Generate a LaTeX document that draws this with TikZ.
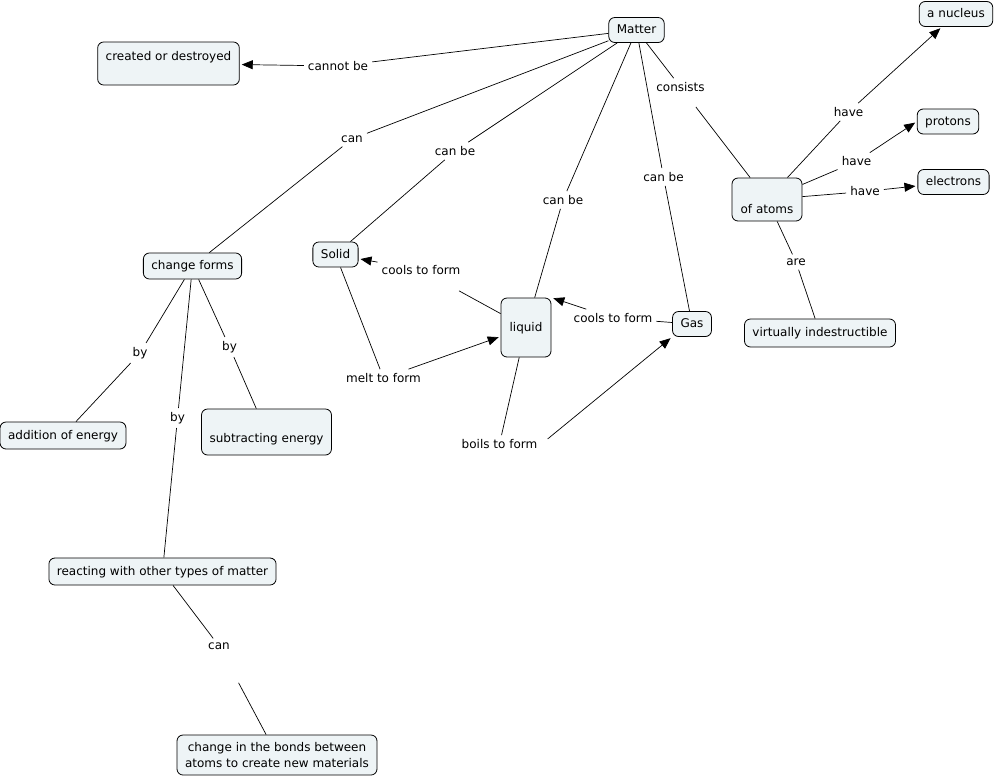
\documentclass[tikz,border=0pt]{standalone}
\usepackage{fontspec}
\setmainfont{DejaVu Sans}
\usetikzlibrary{arrows.meta}

\definecolor{conceptfill}{HTML}{EEF4F6}

\tikzset{
    concept/.style={draw, rounded corners=6pt, fill=conceptfill, line width=0.8pt, inner xsep=8pt, inner ysep=6pt, text height=10pt, text depth=3pt},
    linkword/.style={inner sep=4pt},
    link/.style={line width=0.7pt},
    linkto/.style={link, shorten >=2pt, -{Triangle[length=11pt, width=9pt]}},
}

\begin{document}
\begin{tikzpicture}[x=1pt, y=-1pt, font=\fontsize{12}{15.5}\selectfont]
                \useasboundingbox (0, 0) rectangle (996, 777);

                % concepts
                \node[concept] (matter) at (636.5, 30) {Matter};
                \node[concept, minimum width=141pt, text height=12pt, text depth=19pt] (created) at (168.5, 63.5) {created or destroyed};
                \node[concept] (nucleus) at (956, 14) {a nucleus};
                \node[concept] (protons) at (948, 121.5) {protons};
                \node[concept] (electrons) at (953.5, 182) {electrons};
                \node[concept, minimum width=70pt, text height=29pt, text depth=2pt] (atoms) at (767, 199.5) {of atoms};
                \node[concept, minimum height=28pt] (indestr) at (820, 333) {virtually indestructible};
                \node[concept] (solid) at (335.5, 254.5) {Solid};
                \node[concept, minimum width=50pt, text height=27pt, text depth=20pt] (liquid) at (526, 327.5) {liquid};
                \node[concept] (gas) at (692, 324) {Gas};
                \node[concept, minimum height=26pt] (change) at (192.5, 266) {change forms};
                \node[concept, minimum height=27pt] (addition) at (63, 435.5) {addition of energy};
                \node[concept, minimum width=129pt, text height=27pt, text depth=7pt] (subtract) at (266.5, 432) {subtracting energy};
                \node[concept, minimum height=27pt] (reacting) at (162.5, 571.5) {reacting with other types of matter};
                \node[concept, text height=, text depth=, align=center, minimum width=200pt, minimum height=40pt] (bonds) at (277, 755) {change in the bonds between\\atoms to create new materials};

                % linking words
                \node[linkword] (cannotbe) at (338, 66) {cannot be};
                \node[linkword] (canch) at (352, 139) {can};
                \node[linkword] (canbes) at (455, 151) {can be};
                \node[linkword] (canbel) at (563, 200) {can be};
                \node[linkword] (canbeg) at (663.5, 177) {can be};
                \node[linkword] (consists) at (680.5, 87) {consists};
                \node[linkword] (havenuc) at (848.5, 112) {have};
                \node[linkword] (havepro) at (856.5, 161.5) {have};
                \node[linkword] (haveele) at (865, 191.5) {have};
                \node[linkword] (are) at (796, 262) {are};
                \node[linkword] (coolss) at (421, 270) {cools to form};
                \node[linkword] (coolsl) at (613, 318) {cools to form};
                \node[linkword] (melt) at (383.5, 378) {melt to form};
                \node[linkword] (boils) at (499.5, 444) {boils to form};
                \node[linkword] (byadd) at (140, 353) {by};
                \node[linkword] (bysub) at (229.5, 347) {by};
                \node[linkword] (byrea) at (177.5, 418) {by};
                \node[linkword] (canbo) at (219, 646) {can};

                % Matter -> created or destroyed
                \draw[link] (matter) -- (cannotbe);
                \draw[linkto] (cannotbe) -- (created);

                % Matter -> change forms
                \draw[link] (matter) -- (canch);
                \draw[link] (canch) -- (change);

                % Matter -> Solid, liquid, Gas
                \draw[link] (matter) -- (canbes);
                \draw[link] (canbes) -- (solid);
                \draw[link] (matter) -- (canbel);
                \draw[link] (canbel) -- (liquid);
                \draw[link] (matter) -- (canbeg);
                \draw[link] (canbeg) -- (gas);

                % Matter -> of atoms
                \draw[link] (matter) -- (consists);
                \draw[link, shorten <=14pt] (consists) -- (atoms);

                % of atoms -> parts
                \draw[link] (atoms) -- (havenuc);
                \draw[linkto] (havenuc) -- (nucleus);
                \draw[link] (atoms) -- (havepro);
                \draw[linkto] (havepro) -- (protons.west);
                \draw[link] (atoms) -- (haveele);
                \draw[linkto] (haveele) -- (electrons);
                \draw[link] (atoms) -- (are);
                \draw[link] (are) -- (indestr);

                % states of matter
                \draw[link, shorten >=25pt] (liquid) -- (coolss);
                \draw[linkto] (coolss) -- (solid);
                \draw[link] (gas) -- (coolsl);
                \draw[linkto] (coolsl) -- (liquid.north east);
                \draw[link] (solid) -- (melt);
                \draw[linkto] (melt) -- (liquid);
                \draw[link] (liquid) -- (boils);
                \draw[linkto, shorten <=8pt] (boils.east) -- (gas.south west);

                % change forms -> by
                \draw[link] (change) -- (byadd);
                \draw[link] (byadd) -- (addition);
                \draw[link] (change) -- (bysub);
                \draw[link] (bysub) -- (subtract);
                \draw[link] (change) -- (byrea);
                \draw[link] (byrea) -- (reacting);

                % reacting -> bonds
                \draw[link] (reacting) -- (canbo);
                \draw[link, shorten <=33pt] (canbo) -- (bonds);

            \end{tikzpicture}
\end{document}
